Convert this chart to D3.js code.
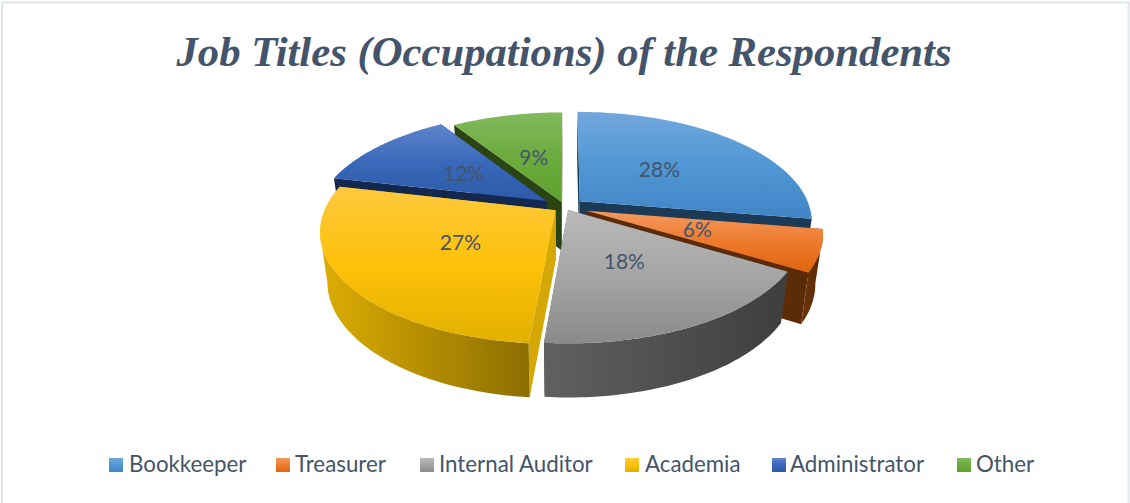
<!DOCTYPE html>
<html><head><meta charset="utf-8">
<script src="https://cdnjs.cloudflare.com/ajax/libs/d3/7.8.5/d3.min.js"></script>
<style>html,body{margin:0;padding:0;background:#fff}svg{display:block}</style>
</head><body><svg id="c" width="1130" height="503"></svg>
<script>
const chartTitle = "Job Titles (Occupations) of the Respondents";
const categories = ["Bookkeeper","Treasurer","Internal Auditor","Academia","Administrator","Other"];
const shares = [27.6,6,17.8,27.2,12.2,9.2];

// styling and layout, per slice
const explode = [.085,.1,.03,.05,.1,.05];
const labelReach = [.49,.49,.49,.48,.47,.47];
const topFill = [["#72a7dc","#5097d5","#4084c4"],["#f29a62","#ee7a2c","#e1660f"],["#b9b9b9","#a5a5a5","#8a8a8a"],["#fec93f","#fdc108","#e2b000"],["#5e85ca","#3a68ba","#2c5aa9"],["#82ba5e","#6cab3e","#5ea12c"]];
const sideFill = [["#1a3a57","#1a3a57"],["#6b3309","#592a07"],["#606060","#3e3e3e"],["#dcad03","#8c6e00"],["#13284f","#13284f"],["#2a4513","#2a4513"]];
const radialFill = ["#1a3a57","#5c2c08","#5e5e5e","#d6a806","#13284f","#2a4513"];
const drawOrder = [5,4,0,1,2,3];
const legendSwatchX = [109,276,420,625,772,957];
const legendTextX = [129,295,439,645,790,976];

const svg = d3.select("#c"), defs = svg.append("defs");
const ink = "#44546a";
const cx=565, cy=207, rx=230, ry=107.7, persp=.184, depth=49;

const arcs = d3.pie().sort(null).value(d=>d)(shares);

function project(u,v,z){
  const s = 1/(1-persp*v);
  const shrink = 1-.03*z;
  return [cx+rx*u*s*shrink, cy+ry*v*s+z*depth*(.55+.45*s)];
}
function grad(id,stops,horizontal){
  const g=defs.append("linearGradient").attr("id",id).attr("x1",0).attr("y1",0)
    .attr("x2",horizontal?1:0).attr("y2",horizontal?0:1);
  stops.forEach((c,i)=>g.append("stop").attr("offset",i/(stops.length-1)).attr("stop-color",c));
  return `url(#${id})`;
}
const poly = d3.line().curve(d3.curveLinear);

const gPie = svg.append("g");
drawOrder.forEach(i=>{
  const a=arcs[i], mid=(a.startAngle+a.endAngle)/2;
  const ax=explode[i]*Math.sin(mid), ay=-explode[i]*Math.cos(mid);
  const pt=(t,r,z)=>project(ax+r*Math.sin(t),ay-r*Math.cos(t),z);
  const ts=d3.range(0,61).map(k=>a.startAngle+(a.endAngle-a.startAngle)*k/60);
  const top=ts.map(t=>pt(t,1,0)), bot=ts.map(t=>pt(t,1,1));
  const apex0=pt(0,0,0), apex1=pt(0,0,1);
  const g=gPie.append("g").attr("class","slice");
  [a.endAngle,a.startAngle].forEach(t=>{
    g.append("path").attr("d",poly([apex0,pt(t,1,0),pt(t,1,1),apex1])+"Z").attr("fill",radialFill[i]);
  });
  // rim: only the strips that face the viewer, joined into one shape
  const strips=d3.range(top.length-1)
    .filter(k=>top[k+1][0]<top[k][0])
    .map(k=>poly([top[k],top[k+1],bot[k+1],bot[k]])+"Z");
  if(strips.length)
    g.append("path").attr("d",strips.join("")).attr("fill",grad("side"+i,sideFill[i],true));
  g.append("path").attr("d",poly([apex0].concat(top))+"Z").attr("fill",grad("top"+i,topFill[i],false));
});

const fmt=v=>Math.round(v)+"%";
arcs.forEach((a,i)=>{
  const mid=(a.startAngle+a.endAngle)/2, e=explode[i], r=labelReach[i]+e;
  const p=project(r*Math.sin(mid),-r*Math.cos(mid),0);
  svg.append("text").attr("x",p[0]).attr("y",p[1]).attr("dy",".35em").attr("text-anchor","middle")
    .attr("font-family","Lato, 'Open Sans', sans-serif").attr("font-size",21).attr("fill",ink).text(fmt(a.value));
});

svg.append("text").attr("x",564).attr("y",66).attr("text-anchor","middle")
  .attr("font-family","'Liberation Serif', serif").attr("font-weight","bold").attr("font-style","italic")
  .attr("font-size",42.7).attr("fill",ink).text(chartTitle);

categories.forEach((c,i)=>{
  svg.append("rect").attr("x",legendSwatchX[i]).attr("y",458).attr("width",14).attr("height",14)
    .attr("fill",grad("leg"+i,topFill[i],false));
  svg.append("text").attr("x",legendTextX[i]).attr("y",472)
    .attr("font-family","Lato, 'Open Sans', sans-serif").attr("font-size",22.3).attr("fill",ink).text(c);
});
svg.append("path").attr("d","M2 503V2.5H1128.5V503").attr("fill","none").attr("stroke","#dfe5ec").attr("stroke-width",2);
</script></body></html>
